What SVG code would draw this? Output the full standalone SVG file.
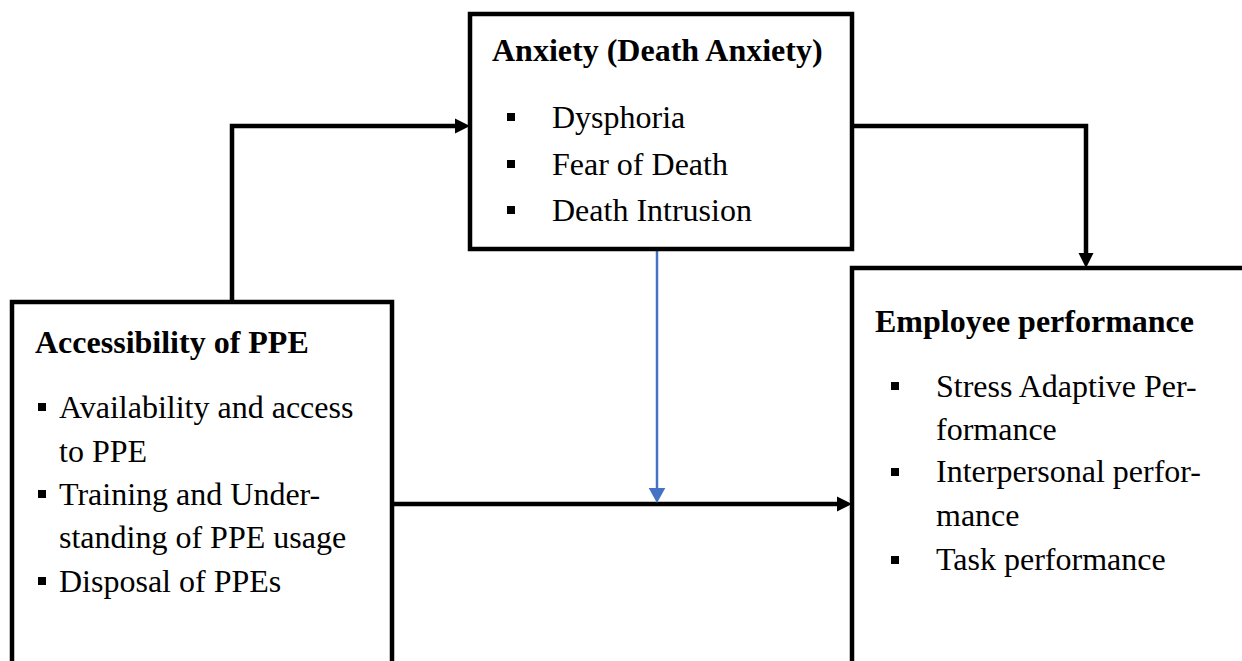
<svg xmlns="http://www.w3.org/2000/svg" width="1242" height="661" viewBox="0 0 1242 661">
<style>
.box{fill:#fff;stroke:#000;stroke-width:4.5}
.t{font-size:32px;fill:#000}
.b{font-weight:bold}
.bul{fill:#000}
.con{fill:none;stroke:#000;stroke-width:4.5;stroke-linejoin:miter}
.blue{fill:none;stroke:#4472C4;stroke-width:2.5}
</style>
<defs>
<marker id="ah" markerUnits="userSpaceOnUse" markerWidth="16" markerHeight="16" refX="5" refY="7.5" orient="auto" overflow="visible">
<path d="M0,0 L15,7.5 L0,15 z" fill="#000"/>
</marker>
<marker id="ahb" markerUnits="userSpaceOnUse" markerWidth="16" markerHeight="18" refX="5" refY="8.3" orient="auto" overflow="visible">
<path d="M0,0 L15,8.3 L0,16.6 z" fill="#4472C4"/>
</marker>
</defs>
<rect width="1242" height="661" fill="#fff"/>
<g id="connectors">
<path class="con" d="M232 302 V126 H460" marker-end="url(#ah)"/>
<path class="con" d="M852 126 H1086 V258" marker-end="url(#ah)"/>
<path class="con" d="M392 504 H842" marker-end="url(#ah)"/>
<path class="blue" d="M657 249 V493" marker-end="url(#ahb)"/>
</g>
<g font-family="Liberation Serif, Times New Roman, DejaVu Serif, serif">
<g id="anxiety">
<rect class="box" x="470" y="14" width="382" height="235"/>
<text class="t b" x="492" y="61">Anxiety (Death Anxiety)</text>
<rect class="bul" x="507" y="113" width="8" height="8"/>
<text class="t" x="552" y="128">Dysphoria</text>
<rect class="bul" x="507" y="160" width="8" height="8"/>
<text class="t" x="552" y="175">Fear of Death</text>
<rect class="bul" x="507" y="206" width="8" height="8"/>
<text class="t" x="552" y="221">Death Intrusion</text>
</g>
<g id="accessibility">
<rect class="box" x="12" y="302" width="380" height="420"/>
<text class="t b" x="35" y="353">Accessibility of PPE</text>
<rect class="bul" x="38" y="403" width="8" height="8"/>
<text class="t" x="59" y="418">Availability and access</text>
<text class="t" x="59" y="462">to PPE</text>
<rect class="bul" x="38" y="490" width="8" height="8"/>
<text class="t" x="59" y="505">Training and Under-</text>
<text class="t" x="59" y="548">standing of PPE usage</text>
<rect class="bul" x="38" y="577" width="8" height="8"/>
<text class="t" x="59" y="592">Disposal of PPEs</text>
</g>
<g id="performance">
<rect class="box" x="852" y="268" width="450" height="450"/>
<text class="t b" x="875" y="332">Employee performance</text>
<rect class="bul" x="891" y="382" width="8" height="8"/>
<text class="t" x="936" y="397">Stress Adaptive Per-</text>
<text class="t" x="936" y="440">formance</text>
<rect class="bul" x="891" y="468" width="8" height="8"/>
<text class="t" x="936" y="482">Interpersonal perfor-</text>
<text class="t" x="936" y="526">mance</text>
<rect class="bul" x="891" y="556" width="8" height="8"/>
<text class="t" x="936" y="570">Task performance</text>
</g>
</g>
</svg>
